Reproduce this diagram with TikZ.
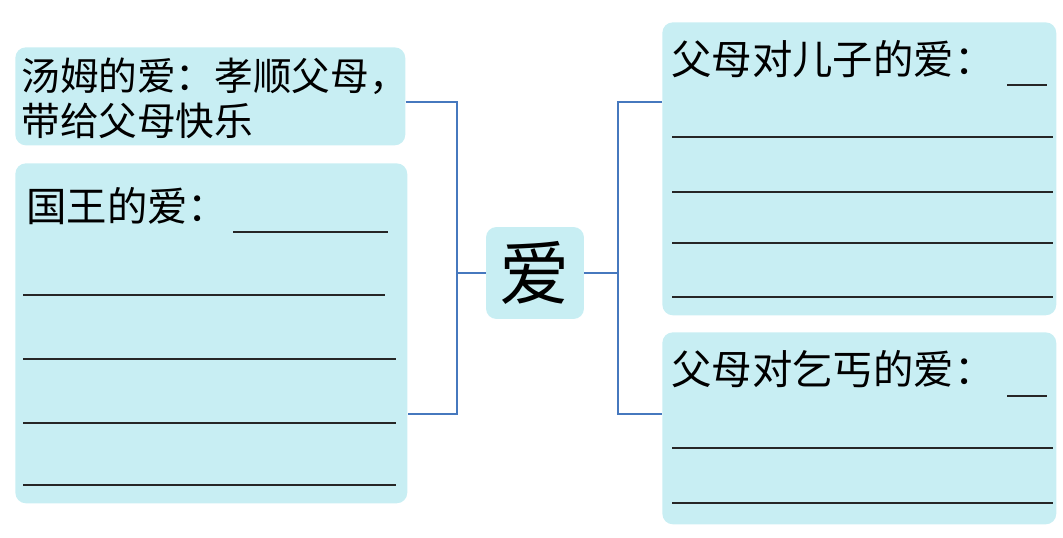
\documentclass[tikz,border=0pt]{standalone}
\usepackage{fontspec}
\newfontfamily\cjk{Noto Sans CJK SC}
\usepackage{tikz}
\usetikzlibrary{positioning}
\definecolor{cardfill}{RGB}{200,238,243}
\definecolor{linkblue}{RGB}{70,120,190}

\begin{document}
\begin{tikzpicture}[
  x=0.02cm,y=-0.02cm,
  every node/.style={font=\cjk\fontsize{23}{25.6}\selectfont,inner sep=0pt},
  card/.style={fill=cardfill,rounded corners=6pt,anchor=north west},
  link/.style={draw=linkblue,line width=1.2pt},
  blank/.style={draw=black!85,line width=1pt}
]
  \useasboundingbox (0,0) rectangle (1063,538);
  % cards
  \node[card,minimum width=7.8cm,minimum height=1.96cm] (tom) at (15,47) {};
  \node[card,minimum width=7.84cm,minimum height=6.8cm] (king) at (15,163) {};
  \node[card,minimum width=1.96cm,minimum height=1.84cm,anchor=center,
        font=\cjk\fontsize{40}{42}\selectfont] (love) at (535,273) {爱};
  \node[card,minimum width=7.88cm,minimum height=5.86cm] (sons) at (662,22) {};
  \node[card,minimum width=7.88cm,minimum height=3.84cm] (beggar) at (662,332) {};
  % texts
  \node[anchor=base west,align=left,font=\cjk\fontsize{22}{25.6}\selectfont]
    (tomtext) at (21,135) {汤姆的爱：孝顺父母，\\带给父母快乐};
  \node[anchor=base west] (kingtext) at (26,221) {国王的爱：};
  \node[anchor=base west] (sonstext) at (671,74) {父母对儿子的爱：};
  \node[anchor=base west] (beggartext) at (671,384) {父母对乞丐的爱：};
  % blanks
  \draw[blank] (233,232) -- (388,232);
  \foreach \y/\xe in {295/385,359/396,423/396,485/396}
    \draw[blank] (23,\y) -- (\xe,\y);
  \draw[blank] (1007,85) -- (1047,85);
  \foreach \y in {137,192,243,297}
    \draw[blank] (672,\y) -- (1053,\y);
  \draw[blank] (1007,396) -- (1047,396);
  \foreach \y in {448,503}
    \draw[blank] (672,\y) -- (1053,\y);
  % brackets
  \coordinate (ltop) at (457,102);
  \coordinate (lbot) at (457,414);
  \coordinate (rtop) at (618,102);
  \coordinate (rbot) at (618,414);
  \draw[link] (tom.east |- ltop) -- (ltop) -- (lbot) -- (king.east |- lbot);
  \draw[link] (love.west) -- (love.west -| ltop);
  \draw[link] (sons.west |- rtop) -- (rtop) -- (rbot) -- (beggar.west |- rbot);
  \draw[link] (love.east) -- (love.east -| rtop);
\end{tikzpicture}
\end{document}
